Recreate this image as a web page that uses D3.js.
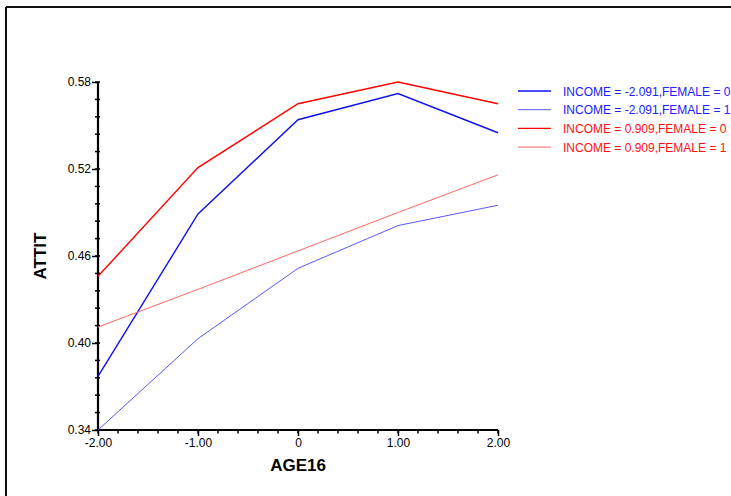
<!DOCTYPE html>
<html>
<head>
<meta charset="utf-8">
<script src="https://cdn.jsdelivr.net/npm/d3@7"></script>
<style>
  body { margin: 0; background: #fff; overflow: hidden; }
  text { font-family: "Liberation Sans", Arial, sans-serif; }
</style>
</head>
<body>
<script>
// chart size = the browser window
var width = 731,
    height = 496;

// x categories (AGE16) and the four predicted lines
var age16 = [-2, -1, 0, 1, 2];
var seriesNames = [
  "INCOME = -2.091,FEMALE = 0",
  "INCOME = -2.091,FEMALE = 1",
  "INCOME = 0.909,FEMALE = 0",
  "INCOME = 0.909,FEMALE = 1"
];
var lowIncMale = [0.377, 0.489, 0.554, 0.572, 0.545];
var lowIncFemale = [0.340, 0.403, 0.4515, 0.481, 0.495];
var highIncMale = [0.446, 0.521, 0.565, 0.580, 0.565];
var highIncFemale = [0.411, 0.437, 0.4635, 0.490, 0.516];
var yTicks = [0.34, 0.40, 0.46, 0.52, 0.58];
var xTickLabels = ["-2.00", "-1.00", "0", "1.00", "2.00"];

var colors = ["#1010f0", "#5858ff", "#ff0000", "#ff6464"];
var textColors = ["#2020ff", "#2020ff", "#ff1010", "#ff1010"];
var widths = [1.4, 1, 1.4, 1];

var svg = d3.select("body")
    .append("svg")
    .attr("width", width)
    .attr("height", height);

// frame lines on top and left
svg.append("line").attr("x1", 6).attr("x2", width).attr("y1", 7).attr("y2", 7)
    .attr("stroke", "#111").attr("stroke-width", 2);
svg.append("line").attr("x1", 6).attr("x2", 6).attr("y1", 7).attr("y2", height)
    .attr("stroke", "#111").attr("stroke-width", 2);

var x = d3.scaleLinear().domain([-2, 2]).range([98, 498]);
var y = d3.scaleLinear().domain([0.34, 0.58]).range([430, 82]);

var g = svg.append("g");

// minor ticks first
var xMinor = d3.range(-2, 2.001, 0.2);
g.selectAll(".xminor").data(xMinor).enter().append("line")
    .attr("x1", d => x(d)).attr("x2", d => x(d))
    .attr("y1", 430).attr("y2", 433.5)
    .attr("stroke", "#000").attr("stroke-width", 1.5);

var yMinor = d3.range(0.34, 0.5801, 0.012);
g.selectAll(".yminor").data(yMinor).enter().append("line")
    .attr("x1", 95).attr("x2", 100)
    .attr("y1", d => y(d)).attr("y2", d => y(d))
    .attr("stroke", "#000").attr("stroke-width", 1.5);

// x axis
var xAxis = d3.axisBottom(x).tickValues(age16)
    .tickFormat((d, i) => xTickLabels[i]).tickSize(6).tickPadding(2);
var gx = g.append("g").attr("transform", "translate(0,430)").call(xAxis);
gx.select(".domain").attr("stroke-width", 2.2).attr("d", "M98,0H498");
gx.selectAll("line").attr("stroke-width", 1.5);
gx.selectAll("text").attr("font-size", 12).attr("fill", "#000");

// y axis
var yAxis = d3.axisLeft(y).tickValues(yTicks)
    .tickFormat(d3.format(".2f")).tickSize(6).tickPadding(1);
var gy = g.append("g").attr("transform", "translate(98,0)").call(yAxis);
gy.select(".domain").attr("stroke-width", 2.2).attr("d", "M0,82V430");
gy.selectAll("line").attr("stroke-width", 1.5);
gy.selectAll("text").attr("font-size", 12).attr("fill", "#000");

// axis titles
svg.append("text").attr("x", 298).attr("y", 471)
    .attr("text-anchor", "middle").attr("font-size", 17).attr("font-weight", "bold")
    .text("AGE16");
svg.append("text")
    .attr("transform", "translate(46,256) rotate(-90)")
    .attr("text-anchor", "middle").attr("font-size", 17).attr("font-weight", "bold")
    .text("ATTIT");

// lines
var allSeries = [lowIncMale, lowIncFemale, highIncMale, highIncFemale];
var line = d3.line().x((d, i) => x(age16[i])).y(d => y(d));

g.selectAll(".series").data(allSeries).enter().append("path")
    .attr("d", line)
    .attr("fill", "none")
    .attr("stroke", (d, i) => colors[i])
    .attr("stroke-width", (d, i) => widths[i]);

// legend
var legend = svg.append("g").selectAll("g").data(seriesNames).enter().append("g")
    .attr("transform", (d, i) => "translate(518," + (91 + i * 18.7) + ")");
legend.append("line").attr("x1", 0).attr("x2", 33)
    .attr("stroke", (d, i) => colors[i]).attr("stroke-width", (d, i) => widths[i]);
legend.append("text").attr("x", 45).attr("y", 4.5)
    .attr("font-size", 12).attr("fill", (d, i) => textColors[i])
    .text(d => d);
</script>
</body>
</html>
